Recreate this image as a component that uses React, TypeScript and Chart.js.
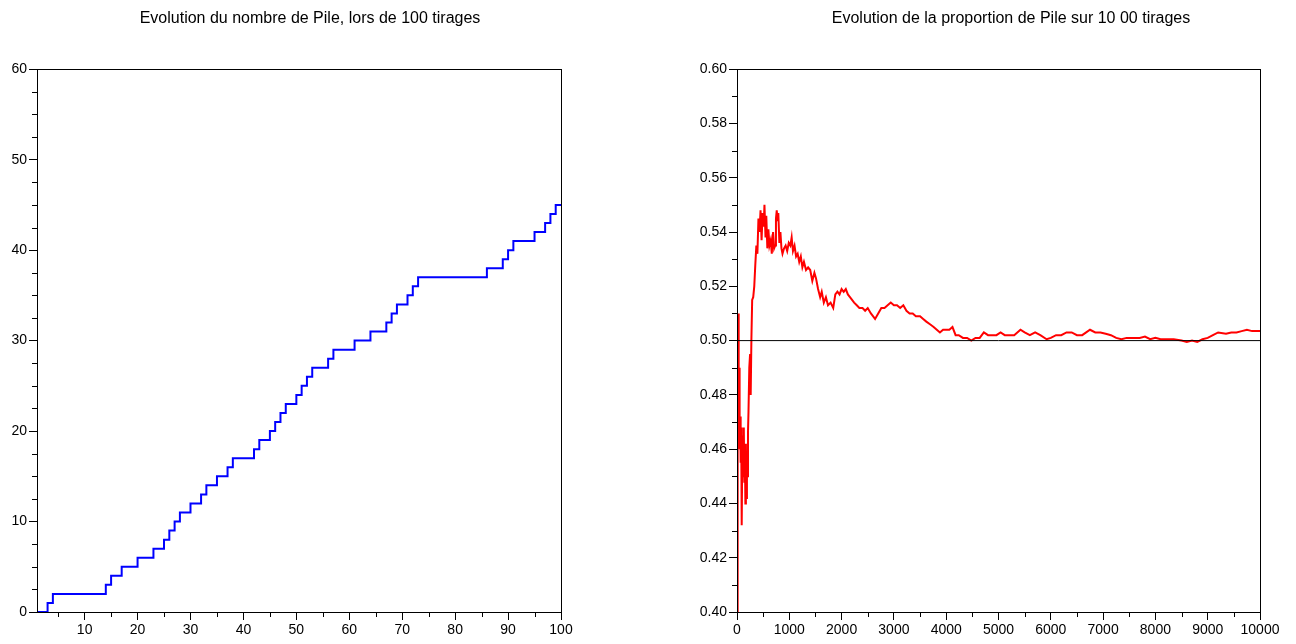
import React, { useEffect, useRef } from "react";
import { Chart, registerables } from "chart.js";
Chart.register(...registerables);

const leftTitle = "Evolution du nombre de Pile, lors de 100 tirages";
const rightTitle = "Evolution de la proportion de Pile sur 10 00 tirages";

// Left chart: cumulative number of "Pile" after each draw n
const draws = [
  1, 2, 3, 4, 5, 6, 7, 8, 9, 10, 11, 12, 13, 14, 15, 16, 17, 18, 19, 20,
  21, 22, 23, 24, 25, 26, 27, 28, 29, 30, 31, 32, 33, 34, 35, 36, 37, 38, 39, 40,
  41, 42, 43, 44, 45, 46, 47, 48, 49, 50, 51, 52, 53, 54, 55, 56, 57, 58, 59, 60,
  61, 62, 63, 64, 65, 66, 67, 68, 69, 70, 71, 72, 73, 74, 75, 76, 77, 78, 79, 80,
  81, 82, 83, 84, 85, 86, 87, 88, 89, 90, 91, 92, 93, 94, 95, 96, 97, 98, 99, 100,
];
const pileCounts = [
  0, 0, 1, 2, 2, 2, 2, 2, 2, 2, 2, 2, 2, 3, 4, 4, 5, 5, 5, 6,
  6, 6, 7, 7, 8, 9, 10, 11, 11, 12, 12, 13, 14, 14, 15, 15, 16, 17, 17, 17,
  17, 18, 19, 19, 20, 21, 22, 23, 23, 24, 25, 26, 27, 27, 27, 28, 29, 29, 29, 29,
  30, 30, 30, 31, 31, 31, 32, 33, 34, 34, 35, 36, 37, 37, 37, 37, 37, 37, 37, 37,
  37, 37, 37, 37, 37, 38, 38, 38, 39, 40, 41, 41, 41, 41, 42, 42, 43, 44, 45, 45,
];
const leftXTicks = [10, 20, 30, 40, 50, 60, 70, 80, 90, 100];
const leftYTicks = [0, 10, 20, 30, 40, 50, 60];

// Right chart: proportion of "Pile" after n draws (sampled readings)
const rightN = [
  1, 8, 12, 18, 25, 32, 40, 50, 60, 70, 80, 90, 100, 110, 120, 130, 140, 150, 160, 170,
  180, 190, 200, 210, 220, 235, 250, 262, 275, 290, 310, 330, 350, 370, 390, 410, 430, 450, 470, 490,
  510, 525, 545, 560, 580, 600, 620, 645, 665, 690, 710, 730, 745, 760, 775, 790, 810, 830, 850, 870,
  900, 930, 960, 990, 1020, 1045, 1070, 1100, 1130, 1160, 1190, 1220, 1250, 1280, 1320, 1360, 1400, 1440, 1480, 1510,
  1550, 1590, 1620, 1660, 1700, 1740, 1790, 1840, 1880, 1920, 1960, 2000, 2040, 2080, 2120, 2160, 2200, 2240, 2290, 2340,
  2400, 2450, 2500, 2560, 2600, 2640, 2700, 2760, 2820, 2880, 2940, 3000, 3060, 3120, 3180, 3240, 3300, 3360, 3420, 3500,
  3560, 3620, 3690, 3760, 3820, 3880, 3940, 4000, 4060, 4120, 4180, 4240, 4320, 4400, 4480, 4560, 4640, 4720, 4800, 4880,
  4960, 5040, 5120, 5200, 5300, 5420, 5500, 5600, 5700, 5800, 5920, 6000, 6100, 6200, 6300, 6400, 6500, 6600, 6750, 6850,
  6950, 7050, 7150, 7250, 7350, 7450, 7550, 7700, 7800, 7900, 8000, 8100, 8200, 8350, 8500, 8600, 8700, 8800, 8900, 9000,
  9100, 9200, 9350, 9450, 9550, 9650, 9750, 9850, 10000,
];
const rightProportion = [
  0.0, 0.4, 0.495, 0.47, 0.51, 0.47, 0.49, 0.46, 0.472, 0.455, 0.468, 0.432, 0.455, 0.465, 0.45, 0.468, 0.448, 0.462, 0.44, 0.462,
  0.442, 0.458, 0.45, 0.466, 0.474, 0.49, 0.495, 0.48, 0.5, 0.515, 0.516, 0.52, 0.528, 0.535, 0.532, 0.545, 0.54, 0.548, 0.537, 0.547,
  0.542, 0.55, 0.538, 0.546, 0.534, 0.541, 0.535, 0.537, 0.532, 0.54, 0.534, 0.535, 0.545, 0.548, 0.544, 0.547, 0.536, 0.54, 0.534, 0.532,
  0.534, 0.535, 0.533, 0.536, 0.535, 0.538, 0.533, 0.535, 0.531, 0.532, 0.529, 0.531, 0.527, 0.529, 0.526, 0.527, 0.526, 0.522, 0.525, 0.523,
  0.519, 0.516, 0.518, 0.514, 0.516, 0.513, 0.514, 0.512, 0.517, 0.518, 0.517, 0.519, 0.518, 0.519, 0.517, 0.516, 0.515, 0.514, 0.513, 0.512,
  0.512, 0.511, 0.512, 0.51, 0.509, 0.508, 0.51, 0.512, 0.512, 0.513, 0.514, 0.513, 0.513, 0.512, 0.513, 0.511, 0.51, 0.51, 0.509, 0.509,
  0.508, 0.507, 0.506, 0.505, 0.504, 0.503, 0.504, 0.504, 0.504, 0.505, 0.502, 0.502, 0.501, 0.501, 0.5, 0.501, 0.501, 0.503, 0.502, 0.502,
  0.502, 0.503, 0.502, 0.502, 0.502, 0.504, 0.503, 0.502, 0.503, 0.502, 0.5005, 0.501, 0.502, 0.502, 0.503, 0.503, 0.502, 0.502, 0.504, 0.503,
  0.503, 0.5025, 0.502, 0.501, 0.5005, 0.501, 0.501, 0.501, 0.5015, 0.5005, 0.501, 0.5005, 0.5005, 0.5005, 0.5, 0.4995, 0.5, 0.4995, 0.5005, 0.501,
  0.502, 0.503, 0.5025, 0.503, 0.503, 0.5035, 0.504, 0.5035, 0.5035,
];
const referenceN = [0, 10000];
const referenceLevel = [0.5, 0.5];
const rightXTicks = [0, 1000, 2000, 3000, 4000, 5000, 6000, 7000, 8000, 9000, 10000];
const rightYTicks = [0.4, 0.42, 0.44, 0.46, 0.48, 0.5, 0.52, 0.54, 0.56, 0.58, 0.6];

const FONT = "'Liberation Sans', Arial, Helvetica, sans-serif";
const TICK_SIZE = 14;

function minorValues(min: number, max: number, step: number, majors: number[]) {
  const out: number[] = [];
  const n = Math.round((max - min) / step);
  for (let i = 0; i <= n; i++) {
    const v = +(min + i * step).toFixed(6);
    if (!majors.some((m) => Math.abs(m - v) < step / 10)) out.push(v);
  }
  return out;
}

const framePlugin = {
  id: "frameMinor",
  afterDatasetsDraw(chart: any, _args: any, opts: any) {
    const { ctx, chartArea: a, scales } = chart;
    ctx.save();
    ctx.strokeStyle = "#000";
    ctx.lineWidth = 1;
    ctx.beginPath();
    for (const v of opts.xMinor || []) {
      const px = Math.round(scales.x.getPixelForValue(v)) + 0.5;
      ctx.moveTo(px, a.bottom);
      ctx.lineTo(px, a.bottom + opts.len);
    }
    for (const v of opts.yMinor || []) {
      const py = Math.round(scales.y.getPixelForValue(v)) + 0.5;
      ctx.moveTo(a.left, py);
      ctx.lineTo(a.left - opts.len, py);
    }
    ctx.stroke();
    ctx.strokeRect(
      Math.round(a.left) + 0.5,
      Math.round(a.top) + 0.5,
      Math.round(a.right - a.left),
      Math.round(a.bottom - a.top)
    );
    ctx.restore();
  },
};

function axis(min: number, max: number, ticks: number[], fmt: (v: number) => string, fit: (s: any) => void) {
  return {
    type: "linear",
    min,
    max,
    afterBuildTicks: (s: any) => {
      s.ticks = ticks.map((v) => ({ value: v }));
    },
    afterFit: fit,
    border: { display: false },
    grid: { drawOnChartArea: false, drawTicks: true, tickLength: 8, color: "#000", lineWidth: 1 },
    ticks: {
      color: "#000",
      padding: 2,
      maxRotation: 0,
      autoSkip: false,
      font: { family: FONT, size: TICK_SIZE },
      callback: (v: any) => fmt(Number(v)),
    },
  };
}

// invisible right-hand spacer axis so that the full-width title stays centred on the canvas
function spacer(width: number) {
  return {
    type: "linear",
    position: "right",
    display: true,
    grid: { display: false, drawTicks: false },
    border: { display: false },
    ticks: { display: false },
    afterFit: (s: any) => { s.width = width; },
  };
}

function baseOptions(title: string) {
  return {
    responsive: false,
    animation: false,
    layout: { padding: 0 },
    plugins: {
      legend: { display: false },
      tooltip: { enabled: false },
      title: {
        display: true,
        text: title,
        color: "#000",
        font: { family: FONT, size: 16, weight: "normal", lineHeight: 1.2 },
        padding: { top: 9, bottom: 41 },
      },
    },
    elements: { point: { radius: 0 } },
  } as any;
}

export default function App() {
  const leftRef = useRef<HTMLCanvasElement>(null);
  const rightRef = useRef<HTMLCanvasElement>(null);

  useEffect(() => {
    document.body.style.margin = "0";
    const leftOpts = baseOptions(leftTitle);
    leftOpts.scales = {
      x: axis(1, 100, leftXTicks, (v) => String(v), (s: any) => { s.height = 32; }),
      y: axis(0, 60, leftYTicks, (v) => String(v), (s: any) => { s.width = 37; }),
      pad: spacer(59),
    };
    leftOpts.plugins.frameMinor = {
      len: 5,
      xMinor: minorValues(5, 95, 10, []),
      yMinor: minorValues(0, 60, 2.5, leftYTicks),
    };
    const left = new Chart(leftRef.current!, {
      type: "line",
      data: {
        datasets: [
          {
            data: draws.map((n, i) => ({ x: n, y: pileCounts[i] })),
            borderColor: "#0000ff",
            borderWidth: 2,
            stepped: "before",
            fill: false,
          },
        ],
      },
      options: leftOpts,
      plugins: [framePlugin],
    } as any);

    const rightOpts = baseOptions(rightTitle);
    rightOpts.scales = {
      x: axis(0, 10000, rightXTicks, (v) => String(v), (s: any) => { s.height = 32; }),
      y: axis(0.4, 0.6, rightYTicks, (v) => v.toFixed(2), (s: any) => { s.width = 47; }),
      pad: spacer(72),
    };
    rightOpts.plugins.frameMinor = {
      len: 5,
      xMinor: minorValues(500, 9500, 1000, []),
      yMinor: minorValues(0.41, 0.59, 0.02, []),
    };
    const right = new Chart(rightRef.current!, {
      type: "line",
      data: {
        datasets: [
          {
            data: referenceN.map((n, i) => ({ x: n, y: referenceLevel[i] })),
            borderColor: "#000",
            borderWidth: 1,
            order: 0,
          },
          {
            data: rightN.map((n, i) => ({ x: n, y: rightProportion[i] })),
            borderColor: "#ff0000",
            borderWidth: 2,
            order: 1,
          },
        ],
      },
      options: rightOpts,
      plugins: [framePlugin],
    } as any);

    return () => {
      left.destroy();
      right.destroy();
    };
  }, []);

  return (
    <div style={{ position: "relative", width: 1296, height: 644, overflow: "hidden", background: "#fff" }}>
      <canvas ref={leftRef} width={620} height={644} style={{ position: "absolute", left: 0, top: 0, width: 620, height: 644 }} />
      <canvas ref={rightRef} width={642} height={644} style={{ position: "absolute", left: 690, top: 0, width: 642, height: 644 }} />
    </div>
  );
}
